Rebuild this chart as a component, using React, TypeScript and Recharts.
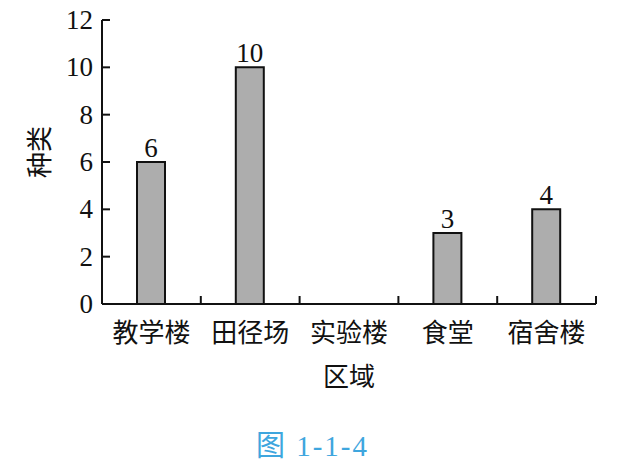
import React from "react";
import { BarChart, Bar, XAxis, YAxis, LabelList, Label } from "recharts";

const categories = ["教学楼", "田径场", "实验楼", "食堂", "宿舍楼"];
const counts: (number | null)[] = [6, 10, null, 3, 4];
const yTicks = [0, 2, 4, 6, 8, 10, 12];

const data = categories.map((name, i) => ({ name, count: counts[i] }));

const W = 623;
const H = 474;
const PLOT_LEFT = 102;
const PLOT_RIGHT = 596;
const HALF_BAND = (PLOT_RIGHT - PLOT_LEFT) / categories.length / 2;

const numFont = "'Liberation Serif', 'DejaVu Serif', serif";
const cjkFont = "'Noto Sans CJK SC', sans-serif";

const XTick = (props: any) => {
  const { x, y, payload } = props;
  return (
    <g>
      <line x1={x + HALF_BAND} x2={x + HALF_BAND} y1={y} y2={y - 8} stroke="#111" strokeWidth={2} />
      <text x={x} y={y + 26} textAnchor="middle" dominantBaseline="central" fontFamily={cjkFont} fontSize={26} fill="#111">
        {payload.value}
      </text>
    </g>
  );
};

const YTick = (props: any) => {
  const { x, y, payload } = props;
  return (
    <g>
      <line x1={x} x2={x + 8} y1={y} y2={y} stroke="#111" strokeWidth={2} />
      <text x={x - 9} y={y} textAnchor="end" dominantBaseline="central" fontFamily={numFont} fontSize={27} fill="#111">
        {payload.value}
      </text>
    </g>
  );
};

const YTitle = () => (
  <text x={37} y={152} transform="rotate(-90 37 152)" textAnchor="middle" dominantBaseline="central" fontFamily={cjkFont} fontSize={26} fill="#111">
    种类
  </text>
);

export default function App() {
  return (
    <div style={{ position: "absolute", left: 0, top: 0, width: W, height: H, background: "#fff" }}>
      <BarChart width={W} height={H} data={data} margin={{ top: 20, right: W - PLOT_RIGHT, left: 2, bottom: 86 }}>
        <XAxis
          dataKey="name"
          height={84}
          tickSize={0}
          tickMargin={0}
          tickLine={false}
          tick={<XTick />}
          axisLine={{ stroke: "#111", strokeWidth: 2 }}
          interval={0}
        >
          <Label value="区域" position="insideBottom" offset={2} fontFamily={cjkFont} fontSize={26} fill="#111" />
        </XAxis>
        <YAxis
          width={100}
          domain={[0, 12]}
          ticks={yTicks}
          interval={0}
          tickSize={0}
          tickMargin={0}
          tickLine={false}
          tick={<YTick />}
          axisLine={{ stroke: "#111", strokeWidth: 2 }}
        >
          <Label content={<YTitle />} />
        </YAxis>
        <Bar dataKey="count" barSize={28} fill="#adadad" stroke="#111" strokeWidth={2} isAnimationActive={false}>
          <LabelList dataKey="count" position="top" offset={5} fontFamily={numFont} fontSize={27} fill="#111" />
        </Bar>
      </BarChart>
      <div
        style={{
          position: "absolute",
          left: 0,
          width: W,
          top: 429,
          textAlign: "center",
          fontFamily: "'Liberation Serif', 'Noto Sans CJK SC', serif",
          fontSize: 29,
          letterSpacing: 2,
          color: "#3ea6de",
          lineHeight: "34px",
        }}
      >
        <span style={{ marginLeft: 2 }}>图 1-1-4</span>
      </div>
    </div>
  );
}
